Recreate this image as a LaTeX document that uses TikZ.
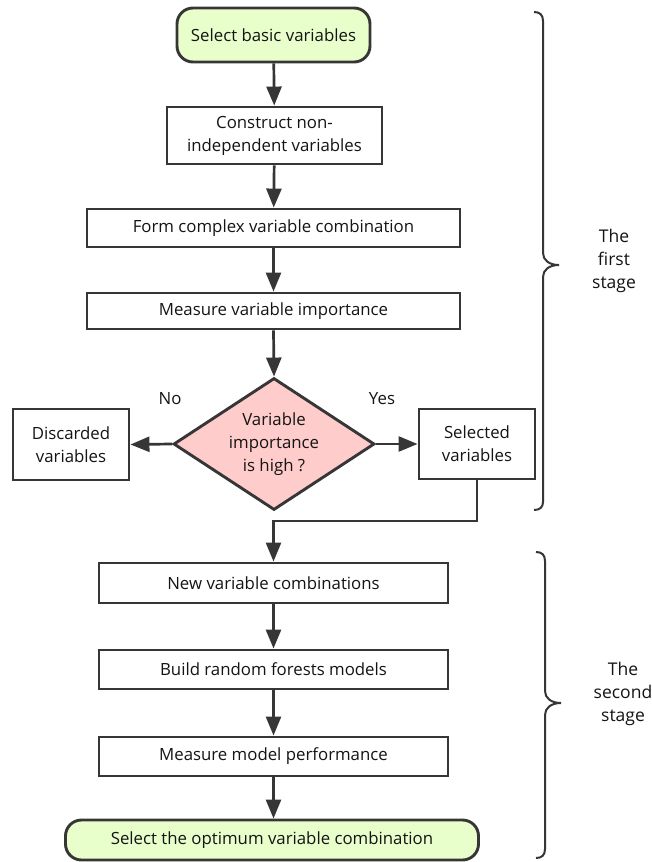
\documentclass[tikz,border=0pt]{standalone}
\usepackage{fontspec}
\setmainfont{Open Sans}
\usetikzlibrary{shapes.geometric,arrows.meta}
\definecolor{lnc}{HTML}{363636}
\definecolor{txc}{HTML}{141414}
\definecolor{termfill}{HTML}{E8FFCC}
\definecolor{decfill}{HTML}{FFCCCC}
\begin{document}
\begin{tikzpicture}[x=1pt,y=-1pt,
  every node/.style={text=txc,font=\fontsize{16.8}{23}\selectfont},
  procbox/.style={draw=lnc,line width=2.9pt,fill=white,align=center,inner sep=2pt},
  termbox/.style={procbox,fill=termfill,rounded corners=16pt},
  decbox/.style={draw=lnc,line width=2.9pt,fill=decfill,diamond,align=center,inner xsep=-10pt,inner ysep=-14pt,minimum width=201pt,minimum height=132pt},
  flow/.style={draw=lnc,line width=2.7pt,-{Triangle[length=19pt,width=15pt]}},
  bracepath/.style={draw=lnc,line width=2pt},
  lbl/.style={inner sep=0pt}
]
\useasboundingbox (0,0) rectangle (652,862);
\fill[white] (0,0) rectangle (652,862);

\node[termbox,minimum width=193pt,minimum height=54pt] (start) at (273.5,35) {Select basic variables};
\node[procbox,minimum width=215pt,minimum height=57pt] (construct) at (274.5,135.5) {Construct non-\\independent variables};
\node[procbox,minimum width=373pt,minimum height=38pt] (form) at (273.5,228) {Form complex variable combination};
\node[procbox,minimum width=373pt,minimum height=36pt] (measure) at (273.5,311) {Measure variable importance};
\node[decbox] (dec) at (274,444) {Variable\\importance\\is high ?};
\node[procbox,minimum width=116pt,minimum height=71pt] (disc) at (71,444.5) {Discarded\\variables};
\node[procbox,minimum width=116pt,minimum height=70pt] (sel) at (477,444) {Selected\\variables};
\node[procbox,minimum width=349pt,minimum height=40pt] (newc) at (273.5,583) {New variable combinations};
\node[procbox,minimum width=349pt,minimum height=39pt] (build) at (273.5,669.5) {Build random forests models};
\node[procbox,minimum width=349pt,minimum height=39pt] (perf) at (273.5,756.5) {Measure model performance};
\node[termbox,minimum width=413pt,minimum height=40pt] (final) at (272,840) {Select the optimum variable combination};

\node[lbl] (no) at (170,399) {No};
\node[lbl] (yes) at (382,399) {Yes};

\draw[flow] (start) -- (construct);
\draw[flow] (construct) -- (form);
\draw[flow] (form) -- (measure);
\draw[flow] (measure.south) -- (dec.north);
\draw[flow] (dec.west) -- (disc.east);
\draw[flow] (dec.east) -- (sel.west);
\coordinate (bend) at (477,521);
\draw[flow] (sel.south) -- (bend) -| (newc.north);
\draw[flow] (newc) -- (build);
\draw[flow] (build) -- (perf);
\draw[flow] (perf.south) -- (final.north -| perf.south);

% braces
\draw[bracepath] (534,12) .. controls (540,12) and (543,15) .. (543,21) -- (543,253)
  .. controls (543,260) and (549,265) .. (559,265)
  .. controls (549,265) and (543,270) .. (543,277) -- (543,502)
  .. controls (543,507) and (540,510) .. (534,510);
\draw[bracepath] (536,552) .. controls (542,552) and (545,555) .. (545,561) -- (545,691)
  .. controls (545,698) and (551,703) .. (561,703)
  .. controls (551,703) and (545,708) .. (545,715) -- (545,849)
  .. controls (545,855) and (542,858) .. (536,858);
\node[align=center,font=\fontsize{17.5}{23}\selectfont] (st1) at (614,261) {The\\first\\stage};
\node[align=center,font=\fontsize{17.5}{23}\selectfont] (st2) at (623,694) {The\\second\\stage};
\end{tikzpicture}
\end{document}
